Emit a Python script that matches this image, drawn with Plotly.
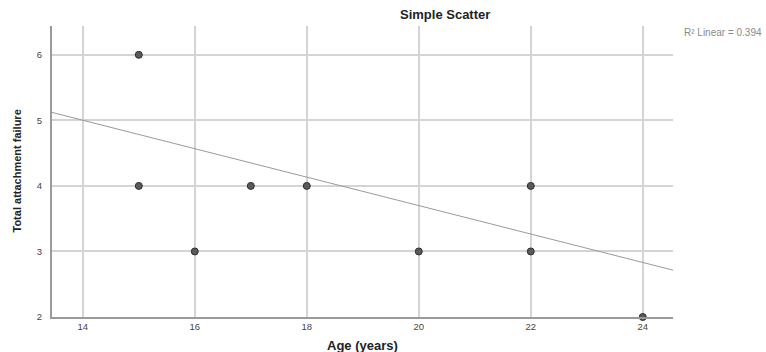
import plotly.graph_objects as go

# Observations: age (years) vs total attachment failure
age = [15, 15, 16, 17, 18, 20, 22, 22, 24]
failure = [6, 4, 3, 4, 4, 3, 4, 3, 2]

# Linear fit shown with the scatter
fit_intercept = 8.04
fit_slope = -0.217
r_squared = 0.394

x_range = [13.45, 24.54]
y_range = [2, 6.44]
x_ticks = [14, 16, 18, 20, 22, 24]
y_ticks = [2, 3, 4, 5, 6]

fit_x = x_range
fit_y = [fit_intercept + fit_slope * v for v in fit_x]

fig = go.Figure()
fig.add_trace(go.Scatter(
    x=fit_x, y=fit_y, mode="lines",
    line=dict(color="#9a9a9a", width=1),
    hoverinfo="skip", showlegend=False,
))
fig.add_trace(go.Scatter(
    x=age, y=failure, mode="markers",
    marker=dict(size=7, color="#5a5a5a", line=dict(color="#2e2e2e", width=1)),
    showlegend=False, cliponaxis=False,
))

font_main = "Liberation Sans, Arial, sans-serif"

fig.update_layout(
    width=766, height=352,
    margin=dict(l=52, r=93, t=26, b=35),
    paper_bgcolor="white", plot_bgcolor="white",
    font=dict(family=font_main, color="#333333", size=9),
    xaxis=dict(
        range=x_range, tickvals=x_ticks, ticks="",
        showgrid=True, gridcolor="#d4d4d4", gridwidth=1.5,
        showline=True, linecolor="#9a9a9a", linewidth=2,
        zeroline=False, tickfont=dict(size=9.5, color="#444444"),
    ),
    yaxis=dict(
        range=y_range, tickvals=y_ticks, ticks="",
        showgrid=True, gridcolor="#d4d4d4", gridwidth=1.5,
        showline=True, linecolor="#9a9a9a", linewidth=2,
        zeroline=False, tickfont=dict(size=9.5, color="#444444"),
        ticklabelstandoff=6,
    ),
    annotations=[
        dict(text="<b>Simple Scatter</b>", xref="paper", yref="paper",
             x=0.633, y=1, yshift=2, xanchor="center", yanchor="bottom",
             showarrow=False, font=dict(size=13, color="#222222", family=font_main)),
        dict(text="<b>Age (years)</b>", xref="paper", yref="paper",
             x=0.5, y=0, yshift=-19, xanchor="center", yanchor="top",
             showarrow=False, font=dict(size=13, color="#222222", family=font_main)),
        dict(text="<b>Total attachment failure</b>", xref="paper", yref="paper",
             x=0, xshift=-36, y=0.5, xanchor="center", yanchor="middle", textangle=-90,
             showarrow=False,
             font=dict(size=11, color="#222222", family=font_main)),
        dict(text=f"R² Linear = {r_squared}", xref="paper", yref="paper",
             x=1, xshift=91, y=0.979, xanchor="right", yanchor="middle",
             showarrow=False, font=dict(size=10, color="#8a8a8a", family=font_main)),
    ],
)

fig.write_html("out.html")
